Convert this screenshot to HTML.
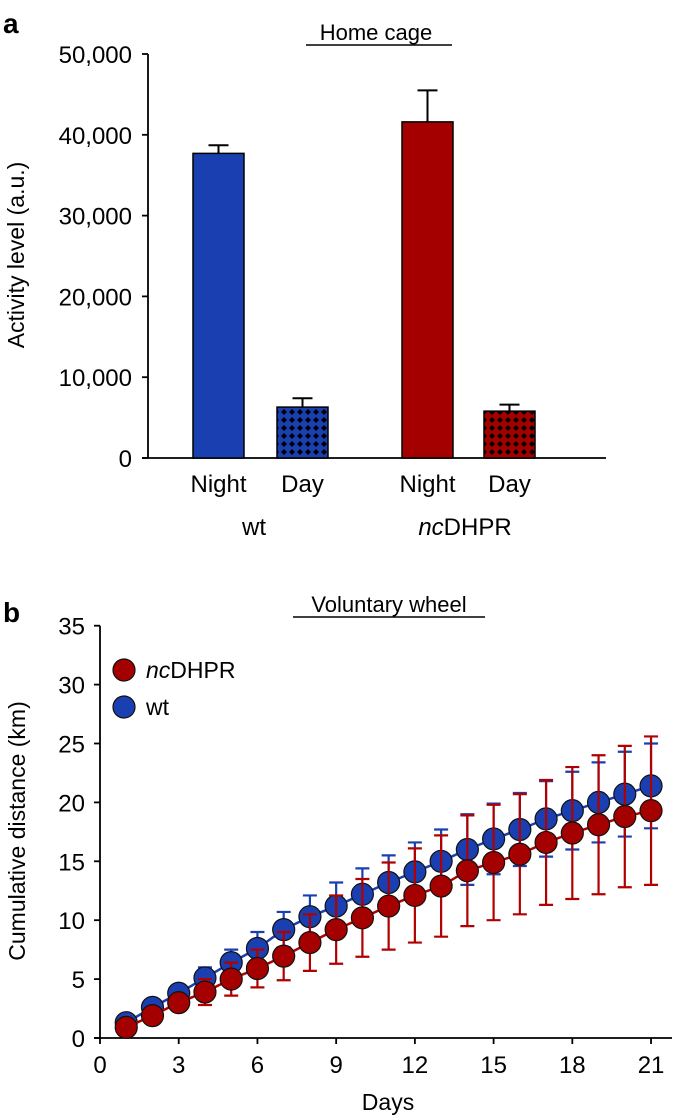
<!DOCTYPE html>
<html><head><meta charset="utf-8">
<style>
body{margin:0;background:#fff;}
svg{display:block;font-family:"Liberation Sans",Arial,sans-serif;}
</style></head>
<body>
<svg id="fig" width="675" height="1118" viewBox="0 0 675 1118">
<defs>
<pattern id="patB" width="8" height="8" patternUnits="userSpaceOnUse">
<rect width="8" height="8" fill="#1a3fb0"/><path d="M4 1 L7 4 L4 7 L1 4Z" fill="#000"/></pattern>
<pattern id="patR" width="8" height="8" patternUnits="userSpaceOnUse">
<rect width="8" height="8" fill="#a50000"/><path d="M4 1 L7 4 L4 7 L1 4Z" fill="#000"/></pattern>
</defs>
<text x="3" y="33" font-size="28" font-weight="bold">a</text>
<text x="376" y="40" font-size="22" text-anchor="middle">Home cage</text>
<line x1="306" y1="45" x2="452" y2="45" stroke="#000" stroke-width="1.5"/>
<g id="topG"></g>
<text x="3" y="622" font-size="28" font-weight="bold">b</text>
<text x="389" y="612" font-size="22" text-anchor="middle">Voluntary wheel</text>
<line x1="293" y1="617" x2="485" y2="617" stroke="#000" stroke-width="1.5"/>
<g id="botG"></g>
</svg>
<script>
// ---- Panel a data ----
const barCats = ["Night","Day","Night","Day"];
const barGroups = ["wt","ncDHPR"];
const barMeans = [37700, 6300, 41600, 5800];
const barErrs = [1000, 1100, 3900, 800];
const yTicksA = [0,10000,20000,30000,40000,50000];
const yTickLabelsA = ["0","10,000","20,000","30,000","40,000","50,000"];

// ---- Panel b data ----
const days = [1,2,3,4,5,6,7,8,9,10,11,12,13,14,15,16,17,18,19,20,21];
const wtMean = [1.3,2.6,3.8,5.1,6.4,7.6,9.2,10.3,11.2,12.2,13.2,14.1,15.0,16.0,16.9,17.7,18.6,19.3,20.0,20.7,21.4];
const wtErr  = [0.3,0.4,0.6,0.9,1.1,1.4,1.5,1.8,2.0,2.2,2.3,2.5,2.7,3.0,3.0,3.1,3.2,3.3,3.4,3.6,3.6];
const ncMean = [0.9,1.9,3.0,3.9,5.0,5.9,6.95,8.1,9.2,10.2,11.2,12.1,12.9,14.2,14.9,15.6,16.6,17.4,18.1,18.8,19.3];
const ncErr  = [0.3,0.4,0.7,1.1,1.4,1.6,2.05,2.4,2.9,3.3,3.7,4.0,4.3,4.7,4.9,5.1,5.3,5.6,5.9,6.0,6.3];
const xTicksB = [0,3,6,9,12,15,18,21];
const yTicksB = [0,5,10,15,20,25,30,35];

const NS="http://www.w3.org/2000/svg";
function mk(parent,tag,attrs,txt){const e=document.createElementNS(NS,tag);for(const k in attrs)e.setAttribute(k,attrs[k]);if(txt!==undefined)e.textContent=txt;parent.appendChild(e);return e;}

// Panel a
const topG=document.getElementById('topG');
const yA=v=>458-(v/50000)*404;
const barX=[193,277,402,484], barW=51;
let l1=mk(topG,'line',{x1:148,y1:54,x2:148,y2:458,stroke:'#000','stroke-width':1.8});


let l2=mk(topG,'line',{x1:142,y1:458,x2:606,y2:458,stroke:'#000','stroke-width':1.8});


yTicksA.forEach((t,i)=>{
  mk(topG,'line',{x1:142,y1:yA(t),x2:148,y2:yA(t),stroke:'#000','stroke-width':1.8});
  const tl=mk(topG,'text',{x:132,y:yA(t)+9,'font-size':24,'text-anchor':'end'},yTickLabelsA[i]);
  
  
});
const fills=['#1a3fb0','url(#patB)','#a50000','url(#patR)'];
barMeans.forEach((v,i)=>{
  const cx=barX[i]+barW/2;
  const eb=mk(topG,'path',{d:`M${cx} ${yA(v)} V${yA(v+barErrs[i])} M${cx-10} ${yA(v+barErrs[i])} H${cx+10}`,stroke:'#000','stroke-width':2,fill:'none'});
  
  
  const r=mk(topG,'rect',{x:barX[i],y:yA(v),width:barW,height:458-yA(v),fill:fills[i],stroke:'#000','stroke-width':1.5});
  
  
  const t=mk(topG,'text',{x:cx,y:492,'font-size':24,'text-anchor':'middle'},barCats[i]);
  
  
});
let g1=mk(topG,'text',{x:254,y:535,'font-size':24,'text-anchor':'middle'},barGroups[0]);


let g2=mk(topG,'text',{x:465,y:535,'font-size':24,'text-anchor':'middle'});


mk(g2,'tspan',{'font-style':'italic'},'nc');mk(g2,'tspan',{},'DHPR');
let ya=mk(topG,'text',{x:0,y:0,'font-size':23,'text-anchor':'middle',transform:'translate(24,255) rotate(-90)'},'Activity level (a.u.)');



// Panel b
const botG=document.getElementById('botG');
const xB=d=>100+d*26.24;
const yB=v=>1038-v*11.78;
let ax=mk(botG,'line',{x1:100,y1:yB(35),x2:100,y2:1038,stroke:'#000','stroke-width':1.8});


let ax2=mk(botG,'line',{x1:94,y1:1038,x2:672,y2:1038,stroke:'#000','stroke-width':1.8});


yTicksB.forEach(t=>{
  mk(botG,'line',{x1:94,y1:yB(t),x2:100,y2:yB(t),stroke:'#000','stroke-width':1.8});
  const tl=mk(botG,'text',{x:85,y:yB(t)+9,'font-size':24,'text-anchor':'end'},String(t));
  
  
});
xTicksB.forEach(t=>{
  mk(botG,'line',{x1:xB(t),y1:1038,x2:xB(t),y2:1044,stroke:'#000','stroke-width':1.8});
  const tl=mk(botG,'text',{x:xB(t),y:1073,'font-size':24,'text-anchor':'middle'},String(t));
  
  
});
let dl=mk(botG,'text',{x:388,y:1110,'font-size':23,'text-anchor':'middle'},'Days');


let yl=mk(botG,'text',{x:0,y:0,'font-size':23,'text-anchor':'middle',transform:'translate(25,831) rotate(-90)'},'Cumulative distance (km)');



function series(mean,err,col,name){
  const eg=mk(botG,'g',{});
  
  
  days.forEach((d,i)=>{
    const x=xB(d),hi=yB(mean[i]+err[i]),lo=yB(mean[i]-err[i]);
    mk(eg,'path',{d:`M${x} ${hi} V${lo} M${x-7} ${hi} H${x+7} M${x-7} ${lo} H${x+7}`,stroke:col,'stroke-width':2.2,fill:'none'});
  });
}
function line(mean,col,name){
  const p=mk(botG,'polyline',{points:days.map((d,i)=>xB(d)+','+yB(mean[i])).join(' '),stroke:col,'stroke-width':2.5,fill:'none'});
  
  
}
function pts(mean,col,name){
  days.forEach((d,i)=>{
    const c=mk(botG,'circle',{cx:xB(d),cy:yB(mean[i]),r:11,fill:col,stroke:'#111','stroke-width':1.2});
    
    
  });
}
series(wtMean,wtErr,'#1a3fb0','wt');
line(wtMean,'#1a3fb0','wt');
pts(wtMean,'#1a3fb0','wt');
series(ncMean,ncErr,'#b00000','ncdhpr');
line(ncMean,'#b00000','ncdhpr');
pts(ncMean,'#a50000','ncdhpr');

// legend
const lg=mk(botG,'g',{});


let c1=mk(lg,'circle',{cx:124,cy:670,r:11,fill:'#a50000',stroke:'#111','stroke-width':1.2});


let t1=mk(lg,'text',{x:146,y:678,'font-size':23});


mk(t1,'tspan',{'font-style':'italic'},'nc');mk(t1,'tspan',{},'DHPR');
let c2=mk(lg,'circle',{cx:124,cy:707,r:11,fill:'#1a3fb0',stroke:'#111','stroke-width':1.2});


let t2=mk(lg,'text',{x:146,y:715,'font-size':23},'wt');


</script>
</body></html>
